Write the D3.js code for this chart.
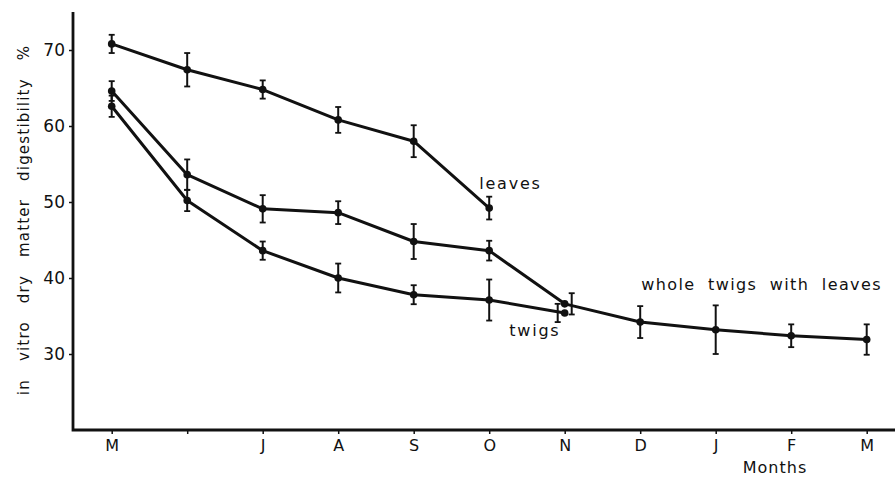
<!DOCTYPE html>
<html>
<head>
<meta charset="utf-8">
<script src="https://cdn.jsdelivr.net/npm/d3@7/dist/d3.min.js"></script>
<style>
  html, body { margin: 0; padding: 0; background: #fff; }
  svg { display: block; }
  text { font-family: "DejaVu Sans", sans-serif; fill: #111; }
</style>
</head>
<body>
<svg id="chart" width="895" height="480"></svg>
<script>
// Months from May to the following March
const monthKeys = ["May", "Jun", "Jul", "Aug", "Sep", "Oct", "Nov", "Dec", "Jan", "Feb", "Mar"];
const monthLabels = ["M", "", "J", "A", "S", "O", "N", "D", "J", "F", "M"];

// In vitro dry matter digestibility (%) with error bars
const leavesValues = [70.8, 67.4, 64.8, 60.8, 58.0, 49.2];
const leavesErr    = [1.2, 2.2, 1.2, 1.7, 2.1, 1.5];

const wholeValues = [64.6, 53.6, 49.1, 48.6, 44.8, 43.6, 36.6, 34.2, 33.2, 32.4, 31.9];
const wholeErr    = [1.3, 2.0, 1.8, 1.5, 2.3, 1.3, 1.4, 2.1, 3.2, 1.5, 2.0];

const twigsValues = [62.6, 50.2, 43.6, 40.0, 37.8, 37.1, 35.4];
const twigsErr    = [1.4, 1.4, 1.2, 1.9, 1.25, 2.7, 1.2];

const yTicks = [30, 40, 50, 60, 70];

const svg = d3.select("#chart");
const axisX = 73, axisY = 430, axisTop = 12, axisRight = 895;

const x = d3.scalePoint().domain(monthKeys).range([111.7, 866.7]);
const y = d3.scaleLinear().domain([20, 75]).range([axisY, axisTop]);

function build(values, errs) {
  return values.map((v, i) => ({ key: monthKeys[i], v, e: errs[i] }));
}
const series = [
  { name: "leaves", data: build(leavesValues, leavesErr), dodge: {} },
  { name: "whole", data: build(wholeValues, wholeErr), dodge: { Nov: 7 } },
  { name: "twigs", data: build(twigsValues, twigsErr), dodge: { Nov: -7 } }
];

// axes
const yAxis = d3.axisLeft(y).tickValues(yTicks).tickSize(4).tickPadding(4);
const gy = svg.append("g").attr("transform", `translate(${axisX},0)`).call(yAxis);
gy.select(".domain").remove();
gy.selectAll(".tick line").attr("stroke", "#111").attr("stroke-width", 1.5);
gy.selectAll(".tick text").style("font-size", "17px").attr("fill", "#111");

const xAxis = d3.axisBottom(x).tickFormat((d, i) => monthLabels[i]).tickSize(4).tickPadding(6);
const gx = svg.append("g").attr("transform", `translate(0,${axisY})`).call(xAxis);
gx.select(".domain").remove();
gx.selectAll(".tick line").attr("stroke", "#111").attr("stroke-width", 1.5);
gx.selectAll(".tick text").style("font-size", "16px").attr("fill", "#111");

svg.append("path")
  .attr("d", `M${axisX},${axisTop}V${axisY}H${axisRight}`)
  .attr("fill", "none").attr("stroke", "#111").attr("stroke-width", 2.8);

// axis titles
svg.append("text")
  .attr("transform", `translate(29,220) rotate(-90)`)
  .attr("text-anchor", "middle")
  .style("font-size", "15px")
  .style("letter-spacing", "1.2px")
  .style("word-spacing", "12px")
  .text("in vitro dry matter digestibility %");

svg.append("text")
  .attr("x", 775).attr("y", 473)
  .attr("text-anchor", "middle")
  .style("font-size", "16px")
  .style("letter-spacing", "1px")
  .text("Months");

// lines, error bars and points
const line = d3.line().x(d => x(d.key)).y(d => y(d.v));

series.forEach(s => {
  svg.append("path").datum(s.data)
    .attr("d", line)
    .attr("fill", "none").attr("stroke", "#111").attr("stroke-width", 3)
    .attr("stroke-linejoin", "round");

  const eb = svg.append("g").selectAll("g").data(s.data).join("g")
    .attr("transform", d => `translate(${x(d.key) + (s.dodge[d.key] || 0)},0)`);
  eb.append("line")
    .attr("y1", d => y(d.v + d.e)).attr("y2", d => y(d.v - d.e))
    .attr("stroke", "#111").attr("stroke-width", 2);
  eb.append("line")
    .attr("x1", -3).attr("x2", 3)
    .attr("y1", d => y(d.v + d.e)).attr("y2", d => y(d.v + d.e))
    .attr("stroke", "#111").attr("stroke-width", 1.8);
  eb.append("line")
    .attr("x1", -3).attr("x2", 3)
    .attr("y1", d => y(d.v - d.e)).attr("y2", d => y(d.v - d.e))
    .attr("stroke", "#111").attr("stroke-width", 1.8);

  svg.append("g").selectAll("circle").data(s.data).join("circle")
    .attr("cx", d => x(d.key)).attr("cy", d => y(d.v))
    .attr("r", 3.8).attr("fill", "#111");
});

// series labels
svg.append("text")
  .attr("x", x("Oct") - 10).attr("y", y(leavesValues[5]) - 19)
  .style("font-size", "16px").style("letter-spacing", "1.8px")
  .text("leaves");

svg.append("text")
  .attr("x", x("Oct") + 20).attr("y", y(twigsValues[6]) + 23)
  .style("font-size", "16px").style("letter-spacing", "1.8px")
  .text("twigs");

svg.append("text")
  .attr("x", x("Dec") + 1).attr("y", y(wholeValues[7]) - 32)
  .style("font-size", "16px").style("letter-spacing", "1.4px")
  .style("word-spacing", "6px")
  .text("whole twigs with leaves");
</script>
</body>
</html>
